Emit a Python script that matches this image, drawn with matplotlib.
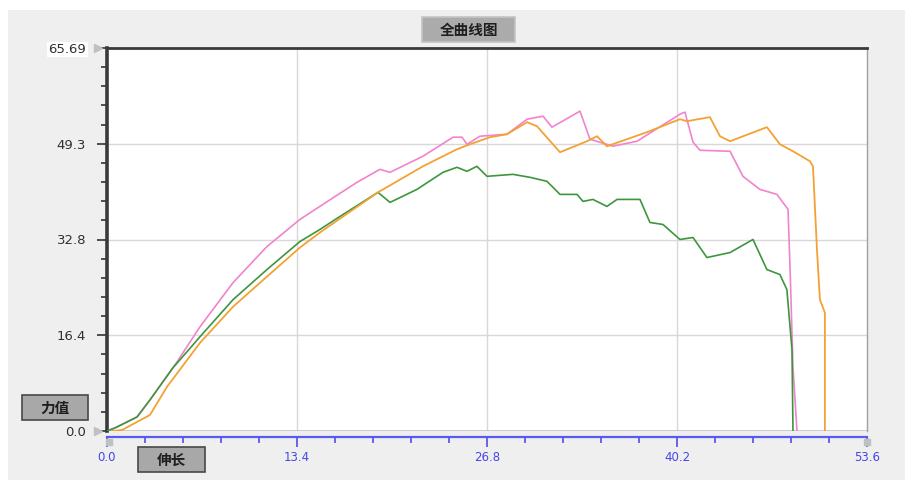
import matplotlib
matplotlib.use("Agg")
import matplotlib.pyplot as plt
from matplotlib.patches import Rectangle
from matplotlib.ticker import MultipleLocator

plt.rcParams['font.family'] = ['DejaVu Sans', 'Noto Sans CJK SC']

# axis ranges / ticks
x_max = 53.6
y_max = 65.69
x_ticks = [0.0, 13.4, 26.8, 40.2, 53.6]
x_labels = ['0.0', '13.4', '26.8', '40.2', '53.6']
y_ticks = [0.0, 16.4225, 32.845, 49.2675, 65.69]
y_labels = ['0.0', '16.4', '32.8', '49.3', '65.69']

# curves (elongation, force)
green_x = [0.0, 0.56, 2.12, 3.03, 4.65, 6.56, 8.89, 11.28, 13.61, 15.02, 16.43, 19.11, 19.96,
           21.86, 23.70, 24.68, 25.39, 26.09, 26.80, 28.63, 29.83, 31.03, 31.95, 33.15, 33.57,
           34.27, 35.26, 35.97, 37.59, 38.29, 39.21, 40.41, 41.33, 42.31, 43.94, 45.56, 46.54,
           47.46, 47.95, 48.31, 48.38]
green_y = [0.0, 0.52, 2.41, 5.33, 10.83, 16.17, 22.53, 27.69, 32.50, 34.57, 36.80, 40.93, 39.21,
           41.44, 44.37, 45.23, 44.54, 45.40, 43.68, 44.02, 43.51, 42.82, 40.58, 40.58, 39.38,
           39.72, 38.52, 39.72, 39.72, 35.77, 35.42, 32.85, 33.19, 29.75, 30.61, 32.85, 27.69,
           26.83, 24.25, 13.93, 0.0]

pink_x = [0.0, 0.56, 2.12, 3.03, 4.94, 6.56, 8.89, 11.28, 13.61, 15.23, 17.63, 19.25, 19.96,
          22.28, 24.40, 25.04, 25.39, 26.30, 28.21, 29.62, 30.75, 31.38, 33.36, 34.06, 35.68,
          37.38, 40.41, 40.76, 41.33, 41.82, 43.94, 44.85, 46.05, 47.25, 48.03, 48.17, 48.38, 48.66]
pink_y = [0.0, 0.52, 2.41, 5.33, 11.87, 17.88, 25.45, 31.64, 36.29, 38.87, 42.65, 44.88, 44.37,
          47.12, 50.39, 50.39, 49.18, 50.56, 50.90, 53.48, 54.00, 52.11, 54.86, 50.04, 48.84,
          49.70, 54.34, 54.69, 49.53, 48.15, 47.98, 43.68, 41.44, 40.58, 38.01, 28.20, 11.01, 0.0]

orange_x = [0.4, 1.06, 3.03, 4.23, 6.56, 8.89, 11.28, 13.61, 15.02, 19.11, 22.28, 24.68, 25.60,
            27.01, 28.21, 29.62, 30.32, 31.95, 33.85, 34.56, 35.26, 38.08, 40.41, 40.90, 42.52,
            43.23, 43.94, 46.54, 47.46, 48.38, 49.58, 49.79, 50.07, 50.28, 50.63, 50.63]
orange_y = [0.0, 0.17, 2.75, 7.57, 15.13, 21.32, 26.48, 31.47, 34.05, 40.93, 45.40, 48.32, 49.18,
            50.39, 50.90, 52.97, 52.28, 47.81, 49.70, 50.56, 48.84, 51.25, 53.48, 53.14, 53.83,
            50.56, 49.70, 52.11, 49.18, 47.98, 46.26, 45.40, 31.13, 22.53, 20.29, 0.0]

W, H = 917, 480
fig = plt.figure(figsize=(W / 100, H / 100), dpi=100, facecolor='white')
# gray panel behind the chart
fig.patches.append(Rectangle((8 / W, 0), 897 / W, 470 / H, transform=fig.transFigure,
                             facecolor='#efefef', edgecolor='none', zorder=-10))

ax = fig.add_axes([107 / W, 1 - 431 / H, 760 / W, 383 / H])
ax.set_facecolor('white')

ax.plot(green_x, green_y, color='#3d963d', lw=1.2, zorder=3)
ax.plot(pink_x, pink_y, color='#f283cd', lw=1.2, zorder=2)
ax.plot(orange_x, orange_y, color='#f4a134', lw=1.3, zorder=4)

ax.set_xlim(0, x_max)
ax.set_ylim(0, y_max)

# grid
for xv in x_ticks[1:-1]:
    ax.axvline(xv, color='#d8d8d8', lw=1, zorder=0)
for yv in y_ticks[1:-1]:
    ax.axhline(yv, color='#d8d8d8', lw=1, zorder=0)
ax.axhline(0, color='#c4c4c4', lw=1.2, zorder=1)

# spines
ax.spines['left'].set_linewidth(2.6)
ax.spines['left'].set_color('#3a3a3a')
ax.spines['top'].set_linewidth(2.0)
ax.spines['top'].set_color('#3a3a3a')
ax.spines['right'].set_linewidth(1.0)
ax.spines['right'].set_color('#a0a0a0')
ax.spines['bottom'].set_position(('outward', 4.5))
ax.spines['bottom'].set_color('#5a5af0')
ax.spines['bottom'].set_linewidth(1.6)

# y ticks
ax.set_yticks(y_ticks)
ax.set_yticklabels(y_labels, fontsize=9.5, color='#303030')
ax.yaxis.set_minor_locator(MultipleLocator(y_max / 20))
ax.tick_params(axis='y', which='major', length=7, width=1.3, color='#404040', pad=8)
ax.tick_params(axis='y', which='minor', length=4, width=1.3, color='#404040')
ax.get_yticklabels()[-1].set_bbox(dict(facecolor='white', edgecolor='none', pad=1))

# x ticks
ax.set_xticks(x_ticks)
ax.set_xticklabels(x_labels, fontsize=8.5, color='#4646e6')
ax.xaxis.set_minor_locator(MultipleLocator(x_max / 20))
ax.tick_params(axis='x', which='major', length=7, width=1.3, color='#5a5af0', pad=3)
ax.tick_params(axis='x', which='minor', length=4, width=1.3, color='#5a5af0')

# small slider markers
ax.plot([-0.012], [0], transform=ax.transAxes, marker='>', ms=6, color='#c0c0c0',
        clip_on=False, zorder=5)
ax.plot([-0.012], [1], transform=ax.transAxes, marker='>', ms=6, color='#c0c0c0',
        clip_on=False, zorder=5)
ax.plot([0.002], [-0.03], transform=ax.transAxes, marker='s', ms=5, color='#c0c0c0',
        clip_on=False, zorder=5)
ax.plot([1.0], [-0.03], transform=ax.transAxes, marker='s', ms=5, color='#c0c0c0',
        clip_on=False, zorder=5)


# button-like labels (left, top, right, bottom in pixels)
def button(text, l, t, r, b, face, edge):
    fig.patches.append(Rectangle((l / W, 1 - b / H), (r - l) / W, (b - t) / H,
                                 transform=fig.transFigure, facecolor=face,
                                 edgecolor=edge, lw=1.2, zorder=5))
    fig.text((l + r) / 2 / W, 1 - (t + b) / 2 / H, text, ha='center', va='center',
             fontsize=10.5, fontweight='bold', family=['Noto Sans CJK SC'],
             color='#1e1e1e', zorder=6)


button('全曲线图', 422, 17, 515, 42, '#ababab', '#c4c4c4')
button('力值', 22, 395, 88, 420, '#a8a8a8', '#484848')
button('伸长', 138, 447, 205, 472, '#a8a8a8', '#484848')

fig.savefig('out.png', dpi=100, facecolor=fig.get_facecolor())
